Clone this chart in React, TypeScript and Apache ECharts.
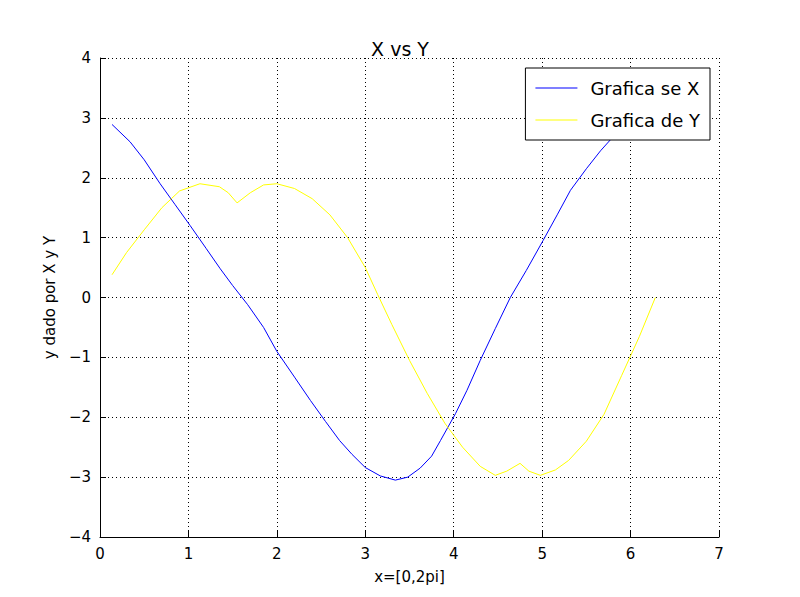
import React, { useEffect, useRef } from "react";
import * as echarts from "echarts";

const xBlue = [0.136,0.34,0.5,0.68,0.85,1.02,1.2,1.36,1.5,1.67,1.85,2.0,2.2,2.38,2.55,2.71,2.85,3.0,3.17,3.34,3.48,3.62,3.75,3.85,4.02,4.15,4.3,4.47,4.64,4.82,5.01,5.17,5.32,5.5,5.66,5.8,5.94,6.1,6.28];
const yBlue = [2.89,2.6,2.3,1.9,1.55,1.2,0.82,0.48,0.2,-0.12,-0.5,-0.9,-1.33,-1.72,-2.07,-2.39,-2.62,-2.84,-2.98,-3.05,-3.0,-2.85,-2.65,-2.39,-1.94,-1.55,-1.05,-0.52,0.0,0.45,0.95,1.38,1.79,2.15,2.45,2.68,2.87,3.0,3.05];
const xYellow = [0.136,0.3,0.5,0.7,0.9,1.13,1.35,1.45,1.55,1.7,1.85,2.0,2.2,2.4,2.6,2.8,3.0,3.14,3.3,3.5,3.7,3.9,4.1,4.3,4.47,4.6,4.75,4.85,4.98,5.15,5.3,5.5,5.7,5.9,6.1,6.28];
const yYellow = [0.38,0.75,1.13,1.5,1.78,1.9,1.85,1.75,1.58,1.75,1.88,1.9,1.82,1.65,1.38,1.0,0.5,0.05,-0.45,-1.05,-1.6,-2.1,-2.5,-2.82,-2.97,-2.9,-2.77,-2.9,-2.97,-2.88,-2.72,-2.4,-1.95,-1.3,-0.65,0.0];
const seriesNames = ["Grafica se X", "Grafica de Y"];

export default function App() {
  const ref = useRef<HTMLDivElement>(null);
  useEffect(() => {
    const chart = echarts.init(ref.current!, null, { renderer: "svg" });
    const font = "DejaVu Sans";
    const axisCommon = {
      axisLine: { onZero: false, lineStyle: { color: "#000" } },
      axisTick: { inside: true, length: 6, lineStyle: { color: "#000" } },
      axisLabel: { color: "#000", fontSize: 15, fontFamily: font, margin: 9 },
      splitLine: { show: true, lineStyle: { color: "#000", type: [1, 3] } },
      nameTextStyle: { color: "#000", fontSize: 15, fontFamily: font },
    };
    chart.setOption({
      animation: false,
      textStyle: { fontFamily: font },
      title: { text: "X vs Y", left: "center", top: 34, textStyle: { fontSize: 19, fontWeight: "normal", color: "#000", fontFamily: font } },
      grid: { left: 100, right: 81, top: 58, bottom: 60 },
      xAxis: { ...axisCommon, type: "value", min: 0, max: 7, interval: 1, name: "x=[0,2pi]", nameLocation: "middle", nameGap: 32 },
      yAxis: { ...axisCommon, type: "value", min: -4, max: 4, interval: 1, name: "y dado por X y Y", nameLocation: "middle", nameGap: 42,
        axisLabel: { ...axisCommon.axisLabel, formatter: (v: number) => (v < 0 ? "\u2212" + Math.abs(v) : String(v)) } },
      legend: {
        orient: "vertical", right: 90, top: 68, itemWidth: 42, itemHeight: 1, itemGap: 10,
        backgroundColor: "#fff", borderColor: "#000", borderWidth: 1, borderRadius: 0, padding: [9, 10, 9, 10],
        icon: "rect", textStyle: { fontSize: 18, color: "#000", fontFamily: font, padding: [0, 0, 0, 8], lineHeight: 22 },
        data: seriesNames,
      },
      series: [
        { name: seriesNames[0], type: "line", showSymbol: false, symbol: "none", color: "#0000ff", lineStyle: { width: 1, color: "#0000ff" }, data: xBlue.map((x, i) => [x, yBlue[i]]) },
        { name: seriesNames[1], type: "line", showSymbol: false, symbol: "none", color: "#ffff00", lineStyle: { width: 1, color: "#ffff00" }, data: xYellow.map((x, i) => [x, yYellow[i]]) },
      ],
    });
    return () => chart.dispose();
  }, []);
  return <div ref={ref} style={{ width: 800, height: 597, margin: -8, background: "#fff" }} />;
}
